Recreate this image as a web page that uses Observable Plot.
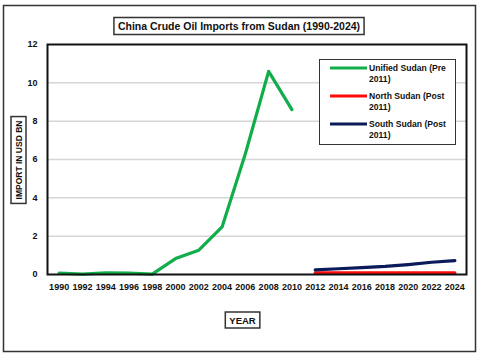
<!DOCTYPE html>
<html>
<head>
<meta charset="utf-8">
<script src="https://cdn.jsdelivr.net/npm/d3@7"></script>
<script src="https://cdn.jsdelivr.net/npm/@observablehq/plot@0.6"></script>
<style>
  html, body { margin: 0; padding: 0; background: white; }
  svg { display: block; }
</style>
</head>
<body>
<div id="chart"></div>
<script>
// ---- data ----
const titleText = "China Crude Oil Imports from Sudan (1990-2024)";
const xLabel = "YEAR";
const yLabel = "IMPORT IN USD BN";

const unifiedYears = [1990, 1992, 1994, 1996, 1998, 2000, 2002, 2004, 2006, 2008, 2010];
const unifiedValues = [0.07, 0.02, 0.08, 0.07, 0.02, 0.83, 1.27, 2.48, 6.3, 10.6, 8.6];

const postYears = [2012, 2014, 2016, 2018, 2020, 2022, 2024];
const northValues = [0.08, 0.08, 0.08, 0.08, 0.08, 0.08, 0.08];
const southValues = [0.24, 0.3, 0.36, 0.42, 0.52, 0.64, 0.72];

const seriesNames = ["Unified Sudan (Pre 2011)", "North Sudan (Post 2011)", "South Sudan (Post 2011)"];
const seriesColors = ["#12ad4b", "#ff0a0a", "#0b1b5a"];

const xTicks = [1990, 1992, 1994, 1996, 1998, 2000, 2002, 2004, 2006, 2008, 2010, 2012, 2014, 2016, 2018, 2020, 2022, 2024];
const yTicks = [0, 2, 4, 6, 8, 10, 12];

// ---- build tables ----
const rows = [];
unifiedYears.forEach((yr, i) => rows.push({series: seriesNames[0], year: yr, value: unifiedValues[i]}));
postYears.forEach((yr, i) => rows.push({series: seriesNames[1], year: yr, value: northValues[i]}));
postYears.forEach((yr, i) => rows.push({series: seriesNames[2], year: yr, value: southValues[i]}));

const font = "'Liberation Sans', Arial, sans-serif";

const chart = Plot.plot({
  width: 479,
  height: 356,
  marginLeft: 47,
  marginRight: 13,
  marginTop: 44,
  marginBottom: 82,
  style: {fontFamily: font, fontSize: "9px", fontWeight: "bold", color: "#111", background: "white"},
  x: {domain: [1989, 2025], label: null},
  y: {domain: [0, 12], label: null},
  color: {domain: seriesNames, range: seriesColors},
  marks: [
    Plot.gridY(yTicks.filter(t => t > 0 && t < 12), {stroke: "#d6d6d6", strokeOpacity: 1, strokeWidth: 1.5}),
    Plot.line(rows, {x: "year", y: "value", z: "series", stroke: "series", strokeWidth: 3.2, curve: "linear"}),
    Plot.frame({stroke: "#111", strokeWidth: 2}),
    Plot.axisX({ticks: xTicks, tickSize: 0, tickPadding: 9, tickFormat: d => String(d), label: null, fontSize: 9, fontWeight: "bold"}),
    Plot.axisY({ticks: yTicks, tickSize: 0, tickPadding: 10, label: null, fontSize: 9, fontWeight: "bold"})
  ]
});

document.getElementById("chart").appendChild(chart);

const svg = d3.select(chart);

// outer border
svg.append("rect")
  .attr("x", 3.5).attr("y", 5.5).attr("width", 472).attr("height", 346)
  .attr("fill", "none").attr("stroke", "#333").attr("stroke-width", 1.5);

function boxedText(x, y, text, size, rotate) {
  const g = svg.append("g").attr("transform", `translate(${x},${y})` + (rotate ? " rotate(-90)" : ""));
  const t = g.append("text")
    .attr("text-anchor", "middle").attr("dominant-baseline", "central")
    .attr("font-family", font).attr("font-weight", "bold").attr("font-size", size)
    .attr("fill", "#111").text(text);
  const b = t.node().getBBox();
  g.insert("rect", "text")
    .attr("x", b.x - 4).attr("y", b.y - 2.5).attr("width", b.width + 8).attr("height", b.height + 5)
    .attr("fill", "white").attr("stroke", "#333").attr("stroke-width", 1.5);
}

boxedText(239, 26, titleText, 10.5, false);
boxedText(242.5, 320, xLabel, 9.5, false);
boxedText(18.5, 160, yLabel, 8.5, true);

// legend
const lg = svg.append("g");
lg.append("rect").attr("x", 319.5).attr("y", 59.5).attr("width", 136).attr("height", 85)
  .attr("fill", "white").attr("stroke", "#333").attr("stroke-width", 1);
seriesNames.forEach((name, i) => {
  const cy = 68 + i * 28;
  lg.append("line").attr("x1", 330).attr("x2", 367).attr("y1", cy).attr("y2", cy)
    .attr("stroke", seriesColors[i]).attr("stroke-width", 3.2);
  const cut = name.lastIndexOf(" ");
  const t = lg.append("text").attr("font-family", font).attr("font-weight", "bold")
    .attr("font-size", 8.6).attr("fill", "#111").attr("text-anchor", "start");
  t.append("tspan").attr("x", 369).attr("y", cy + 3.1).text(name.slice(0, cut));
  t.append("tspan").attr("x", 369).attr("y", cy + 14.4).text(name.slice(cut + 1));
});
</script>
</body>
</html>
